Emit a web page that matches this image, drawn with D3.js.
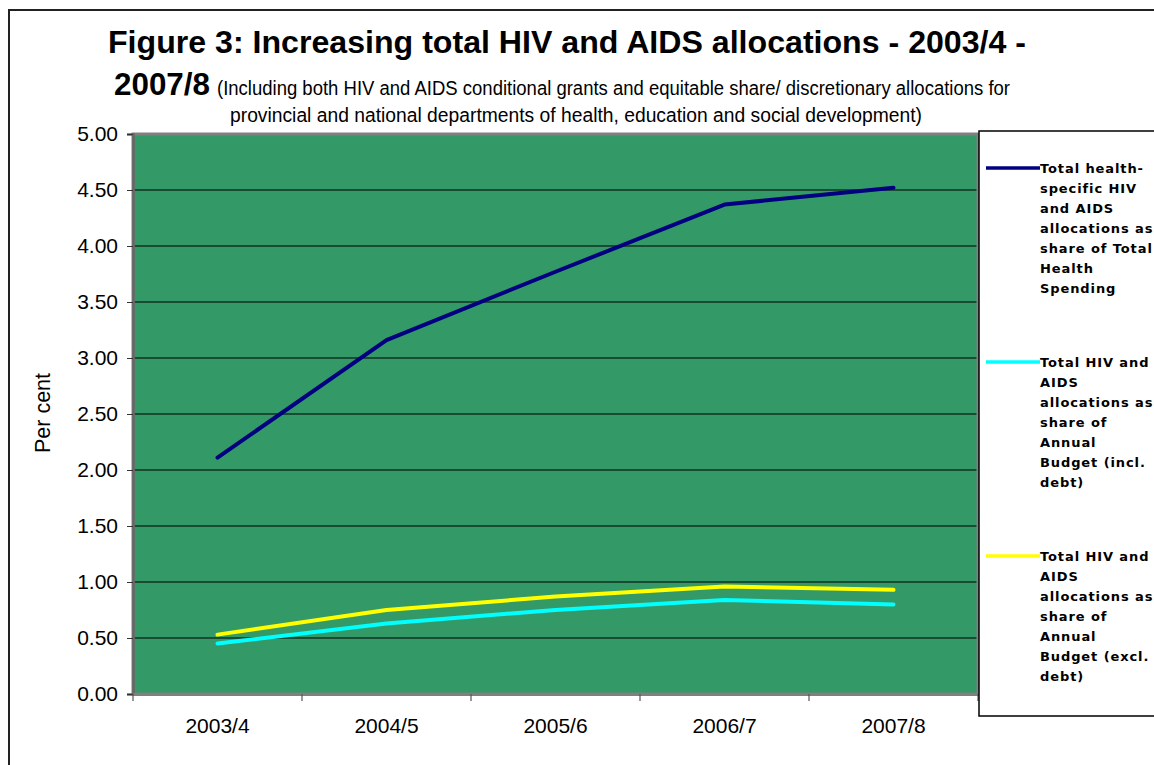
<!DOCTYPE html>
<html>
<head>
<meta charset="utf-8">
<script src="https://cdn.jsdelivr.net/npm/d3@7"></script>
<style>
  html, body { margin: 0; padding: 0; background: #fff; }
  svg { display: block; }
</style>
</head>
<body>
<svg id="chart" width="1154" height="765"></svg>
<script>
// Financial years on the category axis
const years = ["2003/4", "2004/5", "2005/6", "2006/7", "2007/8"];

// Per cent values for each series
const healthShare = [2.11, 3.16, 3.77, 4.37, 4.52];
const budgetInclDebt = [0.45, 0.63, 0.75, 0.84, 0.80];
const budgetExclDebt = [0.53, 0.75, 0.87, 0.96, 0.93];

// Value axis ticks
const yTicks = [0, 0.5, 1, 1.5, 2, 2.5, 3, 3.5, 4, 4.5, 5];

// Legend entries (label split into display lines)
const seriesNames = [
  ["Total health-", "specific HIV", "and AIDS", "allocations as", "share of Total", "Health", "Spending"],
  ["Total HIV and", "AIDS", "allocations as", "share of", "Annual", "Budget (incl.", "debt)"],
  ["Total HIV and", "AIDS", "allocations as", "share of", "Annual", "Budget (excl.", "debt)"]
];
const seriesColors = ["#000080", "#00FFFF", "#FFFF00"];
const seriesData = [healthShare, budgetInclDebt, budgetExclDebt];

const svg = d3.select("#chart");
const sans = "Arial, 'Liberation Sans', sans-serif";
const narrow = "'Liberation Sans Narrow', 'Arial Narrow', Arial, sans-serif";

// Outer frame
svg.append("rect")
  .attr("x", 9).attr("y", 10)
  .attr("width", 1160).attr("height", 780)
  .attr("fill", "none").attr("stroke", "#222").attr("stroke-width", 2);

// Plot area geometry
const plot = { left: 133, right: 978, top: 134, bottom: 694 };

const x = d3.scaleBand().domain(years).range([plot.left, plot.right]);
const y = d3.scaleLinear().domain([0, 5]).range([plot.bottom, plot.top]);

// Background
svg.append("rect")
  .attr("x", plot.left).attr("y", plot.top)
  .attr("width", plot.right - plot.left).attr("height", plot.bottom - plot.top)
  .attr("fill", "#339966");

// Horizontal gridlines
svg.append("g")
  .selectAll("line")
  .data(yTicks.filter(t => t > 0 && t < 5))
  .join("line")
  .attr("x1", plot.left).attr("x2", plot.right)
  .attr("y1", d => y(d)).attr("y2", d => y(d))
  .attr("stroke", "#000").attr("stroke-width", 1.2);

// Plot border (grey)
svg.append("rect")
  .attr("x", plot.left).attr("y", plot.top)
  .attr("width", plot.right - plot.left).attr("height", plot.bottom - plot.top)
  .attr("fill", "none").attr("stroke", "#808080").attr("stroke-width", 3);

// Y axis
const yAxis = d3.axisLeft(y)
  .tickValues(yTicks)
  .tickFormat(d3.format(".2f"))
  .tickSize(6)
  .tickPadding(9);
const gy = svg.append("g")
  .attr("transform", `translate(${plot.left},0)`)
  .call(yAxis);
gy.select(".domain").attr("stroke", "#666").attr("stroke-width", 2.5);
gy.selectAll(".tick line").attr("stroke", "#333").attr("stroke-width", 1);
gy.selectAll(".tick text")
  .attr("font-family", sans)
  .attr("font-size", 21).attr("fill", "#000");

// X axis: ticks between categories
const xAxis = d3.axisBottom(x).tickSize(0).tickPadding(24);
const gx = svg.append("g")
  .attr("transform", `translate(0,${plot.bottom})`)
  .call(xAxis);
gx.select(".domain").attr("stroke", "#808080").attr("stroke-width", 3);
gx.selectAll(".tick text")
  .attr("font-family", sans)
  .attr("font-size", 21).attr("fill", "#000");
svg.append("g")
  .selectAll("line")
  .data(years.map(d => x(d)).concat([plot.right]))
  .join("line")
  .attr("x1", d => d).attr("x2", d => d)
  .attr("y1", plot.bottom).attr("y2", plot.bottom + 7)
  .attr("stroke", "#555").attr("stroke-width", 1.2);

// Series lines
const line = d3.line()
  .x((d, i) => x(years[i]) + x.bandwidth() / 2)
  .y(d => y(d));

// Draw in order so the dark line stays on top
[2, 1, 0].forEach(i => {
  svg.append("path")
    .datum(seriesData[i])
    .attr("d", line)
    .attr("fill", "none")
    .attr("stroke", seriesColors[i])
    .attr("stroke-width", 4)
    .attr("stroke-linecap", "round")
    .attr("stroke-linejoin", "round");
});

// Y axis title
svg.append("text")
  .attr("transform", "translate(50,413) rotate(-90)")
  .attr("text-anchor", "middle")
  .attr("font-family", sans)
  .attr("font-size", 21.5)
  .text("Per cent");

// Title
svg.append("text")
  .attr("x", 108).attr("y", 53)
  .attr("font-family", sans)
  .attr("font-weight", "bold")
  .attr("font-size", 32)
  .attr("textLength", 918).attr("lengthAdjust", "spacingAndGlyphs")
  .text("Figure 3: Increasing total HIV and AIDS allocations - 2003/4 -");

svg.append("text")
  .attr("x", 114).attr("y", 95)
  .attr("font-family", sans)
  .attr("font-weight", "bold")
  .attr("font-size", 32)
  .attr("textLength", 96).attr("lengthAdjust", "spacingAndGlyphs")
  .text("2007/8");

svg.append("text")
  .attr("x", 217).attr("y", 95)
  .attr("font-family", narrow)
  .attr("font-size", 20)
  .attr("textLength", 793).attr("lengthAdjust", "spacingAndGlyphs")
  .text("(Including both HIV and AIDS conditional grants and equitable share/ discretionary allocations for");

svg.append("text")
  .attr("x", 230).attr("y", 122)
  .attr("font-family", narrow)
  .attr("font-size", 20)
  .attr("textLength", 692).attr("lengthAdjust", "spacingAndGlyphs")
  .text("provincial and national departments of health, education and social development)");

// Legend
const legend = svg.append("g");
legend.append("rect")
  .attr("x", 979).attr("y", 131)
  .attr("width", 200).attr("height", 585)
  .attr("fill", "#fff").attr("stroke", "#000").attr("stroke-width", 1.5);

const legendTop = [168, 362, 556];
seriesNames.forEach((lines, i) => {
  const g = legend.append("g").attr("transform", `translate(0,${legendTop[i]})`);
  g.append("line")
    .attr("x1", 986).attr("x2", 1040)
    .attr("y1", 0).attr("y2", 0)
    .attr("stroke", seriesColors[i]).attr("stroke-width", 3.5);
  g.append("text")
    .attr("font-family", "Verdana, 'DejaVu Sans', sans-serif")
    .attr("font-weight", "bold")
    .attr("font-size", 13)
    .attr("letter-spacing", 0.9)
    .selectAll("tspan")
    .data(lines)
    .join("tspan")
    .attr("x", 1040)
    .attr("y", (d, j) => 5 + j * 20)
    .text(d => d);
});
</script>
</body>
</html>
